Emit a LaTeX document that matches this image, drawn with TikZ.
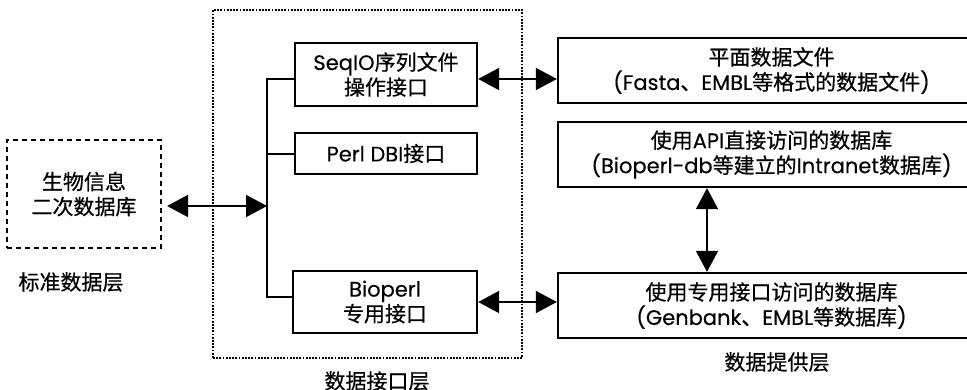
\documentclass[tikz,border=0pt]{standalone}
\usepackage{fontspec}
\setmainfont{Noto Sans CJK SC}[FakeBold=0.6]
\newfontfamily\engfont{Poppins}[FakeBold=0.3]
\newcommand{\eng}[1]{{\engfont #1}}
\usetikzlibrary{arrows.meta}

\begin{document}
\begin{tikzpicture}[x=0.5pt, y=-0.5pt,
		font=\fontsize{10.5}{12.5}\selectfont,
		box/.style={draw, line width=1.2pt, align=center, inner sep=0pt},
		link/.style={{Triangle[length=10.5pt,width=11pt]}-{Triangle[length=10.5pt,width=11pt]}, line width=1pt}]
		\path[use as bounding box, clip] (0,0) rectangle (967,390);

		\node[box, dashed, line width=1.1pt, dash pattern=on 2.5pt off 2pt, minimum width=77pt, minimum height=54pt] (bio) at (84,194) {生物信息\\二次数据库};
		\node[] (stdlabel) at (71,282) {标准数据层};

		\node[draw, line width=1pt, dash pattern=on 0.9pt off 0.7pt, minimum width=154.5pt, minimum height=174pt] (iface) at (367.5,184) {};
		\node[] (ifacelabel) at (377,381) {数据接口层};
		\node[box, minimum width=91pt, minimum height=31.5pt] (seqio) at (386,74.5) {\eng{SeqIO}序列文件\\操作接口};
		\node[box, minimum width=91pt, minimum height=20.5pt] (dbi) at (386,153.5) {\eng{Perl DBI}接口};
		\node[box, minimum width=92pt, minimum height=31pt] (bioperl) at (385,302) {\eng{Bioperl}\\专用接口};

		\node[box, minimum width=213.5pt, minimum height=32.5pt] (flat) at (771.5,70.5) {平面数据文件\\\eng{(Fasta}、\eng{EMBL}等格式的数据文件\eng{)}};
		\node[box, minimum width=213.5pt, minimum height=32.5pt] (apidb) at (771.5,154.5) {使用\eng{API}直接访问的数据库\\\eng{(Bioperl-db}等建立的\eng{Intranet}数据库\eng{)}};
		\node[box, minimum width=213.5pt, minimum height=32.5pt] (genbank) at (771.5,305.5) {使用专用接口访问的数据库\\\eng{(Genbank}、\eng{EMBL}等数据库\eng{)}};
		\node[] (provlabel) at (777,362) {数据提供层};

		\coordinate (bustop) at (267,79);
		\coordinate (busmid) at (267,206);
		\coordinate (busbot) at (267,297);
		\coordinate (vx) at (707,0);

		\draw[line width=1pt] (seqio.west |- bustop) -- (bustop) -- (busbot) -- (bioperl.west |- busbot);
		\draw[line width=1pt] (dbi.west) -- (dbi.west -| bustop);
		\draw[link, shorten <=2.5pt] (bio.east |- busmid) -- (busmid);
		\draw[link] (seqio.east |- bustop) -- (flat.west |- bustop);
		\draw[link] (bioperl.east) -- (bioperl.east -| genbank.west);
		\draw[link] (apidb.south -| vx) -- (genbank.north -| vx);
	\end{tikzpicture}
\end{document}
